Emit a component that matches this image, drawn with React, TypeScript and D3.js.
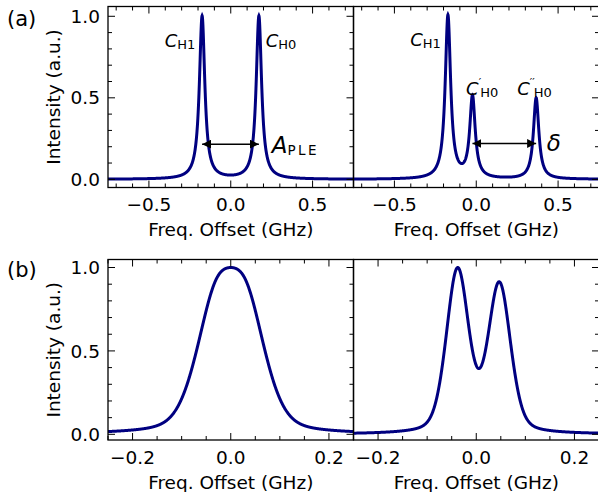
import React from 'react';
import * as d3 from 'd3';

const W = 598;
const H = 492;
const NAVY = '#000080';
const FONT = 'DejaVu Sans';

// ---- Data: peak parameters (GHz, a.u.) ----
const a1Centers = [-0.175, 0.172];
const a1Amps = [1.0, 1.0];
const a1Hwhm = [0.02, 0.02];
const a1Eta = 1.0;

const a2Centers = [-0.173, -0.023, 0.366];
const a2Amps = [1.0, 0.5, 0.497];
const a2Hwhm = [0.02, 0.02, 0.02];
const a2Eta = 1.0;

const b1Centers = [-0.032, 0.032];
const b1Amps = [1.0, 1.0];
const b1Hwhm = [0.047, 0.047];
const b1Eta = 0.33;

const b2Centers = [-0.038, 0.047];
const b2Amps = [1.0, 0.91];
const b2Hwhm = [0.027, 0.027];
const b2Eta = 0.3;

const topXTicks = [-0.5, 0, 0.5];
const topXMinor = [-0.7, -0.6, -0.4, -0.3, -0.2, -0.1, 0.1, 0.2, 0.3, 0.4, 0.6, 0.7];
const botXTicks = [-0.2, 0, 0.2];
const botXMinor = [-0.25, -0.15, -0.1, -0.05, 0.05, 0.1, 0.15, 0.25];
const yTicks = [0, 0.5, 1.0];
const yMinor = [0.1, 0.2, 0.3, 0.4, 0.6, 0.7, 0.8, 0.9];

const topXDomain: [number, number] = [-0.75, 0.75];
const botXDomain: [number, number] = [-0.25, 0.25];
const topYDomain: [number, number] = [-0.05, 1.06];
const botYDomain: [number, number] = [-0.034, 1.048];

// annotations (data coords)
const arrowA = { x1: -0.175, x2: 0.172, y: 0.216 };
const arrowD = { x1: -0.023, x2: 0.366, y: 0.22 };

const TICK_FS = 18.5;
const LABEL_FS = 18.5;

function profile(x: number, centers: number[], amps: number[], hw: number[], eta: number) {
  let s = 0;
  for (let i = 0; i < centers.length; i++) {
    const u = (x - centers[i]) / hw[i];
    const L = 1 / (1 + u * u);
    const G = Math.exp(-Math.LN2 * u * u);
    s += amps[i] * (eta * L + (1 - eta) * G);
  }
  return s;
}

function makeCurve(dom: [number, number], centers: number[], amps: number[], hw: number[], eta: number, normalize: boolean) {
  const n = 1500;
  const xs = d3.range(n + 1).map((i) => dom[0] + ((dom[1] - dom[0]) * i) / n);
  const ys = xs.map((x) => profile(x, centers, amps, hw, eta));
  const m = normalize ? (d3.max(ys) as number) : 1;
  return xs.map((x, i) => [x, ys[i] / m] as [number, number]);
}

const fmt = (v: number) => (v < 0 ? '\u2212' : '') + Math.abs(v).toFixed(1);

type PanelProps = {
  x0: number; x1: number; y0: number; y1: number;
  xDom: [number, number]; yDom: [number, number];
  xTicks: number[]; xMinor: number[];
  data: [number, number][];
  showYLabels: boolean;
  showXLabel: boolean;
  id: string;
  children?: (sx: d3.ScaleLinear<number, number>, sy: d3.ScaleLinear<number, number>) => React.ReactNode;
};

function Panel(p: PanelProps) {
  const sx = d3.scaleLinear().domain(p.xDom).range([p.x0, p.x1]);
  const sy = d3.scaleLinear().domain(p.yDom).range([p.y1, p.y0]);
  const line = d3.line<[number, number]>().x((d) => sx(d[0])).y((d) => sy(d[1]));
  const MAJ = 7, MIN = 4;
  const tickEls: React.ReactNode[] = [];
  p.xTicks.forEach((t, i) => {
    const x = sx(t);
    tickEls.push(<line key={'xb' + i} x1={x} x2={x} y1={p.y1} y2={p.y1 - MAJ} />);
    tickEls.push(<line key={'xt' + i} x1={x} x2={x} y1={p.y0} y2={p.y0 + MAJ} />);
  });
  p.xMinor.forEach((t, i) => {
    const x = sx(t);
    tickEls.push(<line key={'mxb' + i} x1={x} x2={x} y1={p.y1} y2={p.y1 - MIN} />);
    tickEls.push(<line key={'mxt' + i} x1={x} x2={x} y1={p.y0} y2={p.y0 + MIN} />);
  });
  yTicks.forEach((t, i) => {
    const y = sy(t);
    if (p.showYLabels) {
      tickEls.push(<line key={'yl' + i} x1={p.x0} x2={p.x0 + MAJ} y1={y} y2={y} />);
    }
    tickEls.push(<line key={'yr' + i} x1={p.x1} x2={p.x1 - MAJ} y1={y} y2={y} />);
  });
  yMinor.forEach((t, i) => {
    const y = sy(t);
    if (p.showYLabels) {
      tickEls.push(<line key={'myl' + i} x1={p.x0} x2={p.x0 + MIN} y1={y} y2={y} />);
    }
    tickEls.push(<line key={'myr' + i} x1={p.x1} x2={p.x1 - MIN} y1={y} y2={y} />);
  });
  return (
    <g>
      <defs>
        <clipPath id={'clip' + p.id}>
          <rect x={p.x0} y={p.y0} width={p.x1 - p.x0} height={p.y1 - p.y0} />
        </clipPath>
      </defs>
      <path d={line(p.data) || ''} fill="none" stroke={NAVY} strokeWidth={3} clipPath={`url(#clip${p.id})`} />
      <g stroke="#000" strokeWidth={1}>{tickEls}</g>
      <rect x={p.x0} y={p.y0} width={p.x1 - p.x0} height={p.y1 - p.y0} fill="none" stroke="#000" strokeWidth={1.3} />
      {p.xTicks.map((t, i) => (
        <text key={'xl' + i} x={sx(t)} y={p.y1 + 23.5} textAnchor="middle" fontSize={TICK_FS} fontFamily={FONT}>{fmt(t)}</text>
      ))}
      {p.showYLabels && yTicks.map((t, i) => (
        <text key={'ylab' + i} x={p.x0 - 8} y={sy(t)} dy="0.36em" textAnchor="end" fontSize={TICK_FS} fontFamily={FONT}>{fmt(t)}</text>
      ))}
      {p.showXLabel && (
        <text x={(p.x0 + p.x1) / 2} y={p.y1 + 48.5} textAnchor="middle" fontSize={LABEL_FS} fontFamily={FONT}>Freq. Offset (GHz)</text>
      )}
      {p.showYLabels && (
        <text transform={`translate(${p.x0 - 48},${(p.y0 + p.y1) / 2}) rotate(-90)`} textAnchor="middle" fontSize={LABEL_FS} fontFamily={FONT}>Intensity (a.u.)</text>
      )}
      {p.children && p.children(sx, sy)}
    </g>
  );
}

function CLabel({ x, y, sub, primes }: { x: number; y: number; sub: string; primes?: string }) {
  return (
    <text x={x} y={y} fontSize={18} fontFamily={FONT}>
      <tspan fontStyle="italic">C</tspan>
      {primes ? (
        <>
          <tspan fontSize={11} dy={-9}>{primes}</tspan>
          <tspan fontSize={13} dx={-1} dy={11}>{sub}</tspan>
        </>
      ) : (
        <tspan fontSize={13} dy={2}>{sub}</tspan>
      )}
    </text>
  );
}

function Arrow({ x1, x2, y }: { x1: number; x2: number; y: number }) {
  return <line x1={x1} x2={x2} y1={y} y2={y} stroke="#000" strokeWidth={1.5} markerStart="url(#ah)" markerEnd="url(#ah)" />;
}

export default function App() {
  const L = 108, M = 353.5, R = 599;
  const T0 = 6.5, T1 = 187.5, B0 = 259.5, B1 = 440;
  const dA1 = makeCurve(topXDomain, a1Centers, a1Amps, a1Hwhm, a1Eta, false);
  const dA2 = makeCurve(topXDomain, a2Centers, a2Amps, a2Hwhm, a2Eta, false);
  const dB1 = makeCurve(botXDomain, b1Centers, b1Amps, b1Hwhm, b1Eta, true);
  const dB2 = makeCurve(botXDomain, b2Centers, b2Amps, b2Hwhm, b2Eta, true);
  return (
    <svg width={W} height={H} style={{ position: 'absolute', left: 0, top: 0, background: '#fff' }} fontFamily={FONT}>
      <defs>
        <marker id="ah" viewBox="0 0 10 10" refX={10} refY={5} markerWidth={9} markerHeight={9} markerUnits="userSpaceOnUse" orient="auto-start-reverse">
          <path d="M0,0 L10,5 L0,10 z" fill="#000" />
        </marker>
      </defs>
      <rect x={0} y={0} width={W} height={H} fill="#fff" />
      <Panel id="a1" x0={L} x1={M} y0={T0} y1={T1} xDom={topXDomain} yDom={topYDomain} xTicks={topXTicks} xMinor={topXMinor} data={dA1} showYLabels={true} showXLabel={true}>
        {(sx, sy) => (
          <g>
            <Arrow x1={sx(arrowA.x1)} x2={sx(arrowA.x2)} y={sy(arrowA.y)} />
            <CLabel x={sx(-0.404)} y={sy(0.81)} sub="H1" />
            <CLabel x={sx(0.214)} y={sy(0.81)} sub="H0" />
            <text x={sx(0.25)} y={sy(0.16)} fontSize={23}>
              <tspan fontStyle="italic">A</tspan>
              <tspan fontSize={13.5} dy={2} letterSpacing={2.5}>PLE</tspan>
            </text>
          </g>
        )}
      </Panel>
      <Panel id="a2" x0={M} x1={R} y0={T0} y1={T1} xDom={topXDomain} yDom={topYDomain} xTicks={topXTicks} xMinor={topXMinor} data={dA2} showYLabels={false} showXLabel={true}>
        {(sx, sy) => (
          <g>
            <Arrow x1={sx(arrowD.x1)} x2={sx(arrowD.x2)} y={sy(arrowD.y)} />
            <CLabel x={sx(-0.404)} y={sy(0.815)} sub="H1" />
            <CLabel x={sx(-0.062)} y={sy(0.52)} sub="H0" primes={'\u2032'} />
            <CLabel x={sx(0.25)} y={sy(0.52)} sub="H0" primes={'\u2032\u2032'} />
            <text x={sx(0.43)} y={sy(0.173)} fontSize={23} fontStyle="italic">δ</text>
          </g>
        )}
      </Panel>
      <Panel id="b1" x0={L} x1={M} y0={B0} y1={B1} xDom={botXDomain} yDom={botYDomain} xTicks={botXTicks} xMinor={botXMinor} data={dB1} showYLabels={true} showXLabel={true} />
      <Panel id="b2" x0={M} x1={R} y0={B0} y1={B1} xDom={botXDomain} yDom={botYDomain} xTicks={botXTicks} xMinor={botXMinor} data={dB2} showYLabels={false} showXLabel={true} />
      <text x={7} y={26} fontSize={21} fontFamily={FONT}>(a)</text>
      <text x={7} y={277} fontSize={21} fontFamily={FONT}>(b)</text>
    </svg>
  );
}
